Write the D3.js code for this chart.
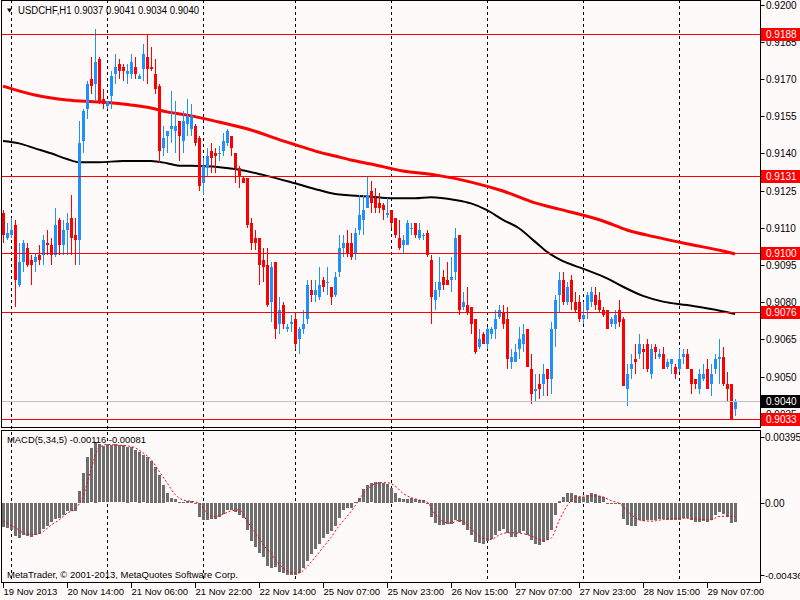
<!DOCTYPE html>
<html>
<head>
<meta charset="utf-8">
<script src="https://cdn.jsdelivr.net/npm/d3@7"></script>
<style>
body { margin: 0; background: #fffafa; }
svg { display: block; font-family: "Liberation Sans", Arial, sans-serif; }
</style>
</head>
<body>
<div id="chart"></div>
<script>
// USDCHF H1 candles, 19 Nov 22:00 .. 29 Nov 14:00
var symbol = "USDCHF,H1";
var opens = [0.9116,0.9106,0.9107,0.9111,0.9087,0.9096,0.9102,0.9097,0.9096,0.9099,
  0.9099,0.9104,0.9103,0.9099,0.9113,0.9103,0.9109,0.9114,0.9107,0.9105,
  0.9145,0.9158,0.9170,0.9168,0.9178,0.9162,0.9159,0.9163,0.9172,0.9176,
  0.9175,0.9172,0.9172,0.9175,0.9170,0.9174,0.9179,0.9175,0.9172,0.9167,
  0.9142,0.9147,0.9150,0.9149,0.9153,0.9145,0.9152,0.9150,0.9151,0.9146,
  0.9128,0.9134,0.9141,0.9140,0.9140,0.9141,0.9144,0.9147,0.9140,0.9134,
  0.9130,0.9130,0.9112,0.9106,0.9106,0.9097,0.9095,0.9080,0.9096,0.9071,
  0.9079,0.9069,0.9071,0.9073,0.9065,0.9069,0.9073,0.9085,0.9083,0.9082,
  0.9089,0.9088,0.9086,0.9083,0.9092,0.9102,0.9104,0.9104,0.9100,0.9109,
  0.9113,0.9118,0.9125,0.9122,0.9120,0.9119,0.9115,0.9117,0.9114,0.9106,
  0.9103,0.9103,0.9110,0.9112,0.9106,0.9107,0.9108,0.9097,0.9081,0.9085,
  0.9090,0.9089,0.9089,0.9092,0.9107,0.9078,0.9079,0.9078,0.9073,0.9062,
  0.9067,0.9063,0.9067,0.9069,0.9074,0.9076,0.9073,0.9056,0.9056,0.9061,
  0.9063,0.9069,0.9053,0.9044,0.9047,0.9047,0.9053,0.9049,0.9069,0.9083,
  0.9089,0.9080,0.9089,0.9080,0.9080,0.9073,0.9077,0.9080,0.9083,0.9081,
  0.9077,0.9077,0.9071,0.9071,0.9077,0.9073,0.9045,0.9053,0.9057,0.9059,
  0.9061,0.9063,0.9051,0.9062,0.9058,0.9059,0.9054,0.9055,0.9054,0.9053,
  0.9058,0.9059,0.9053,0.9049,0.9045,0.9049,0.9053,0.9047,0.9053,0.9057,
  0.9058,0.9047,0.9047,0.9037];
var highs = [0.9117,0.9112,0.9114,0.9113,0.9104,0.9105,0.9104,0.9099,0.9100,0.9103,
  0.9107,0.9109,0.9106,0.9118,0.9114,0.9113,0.9116,0.9123,0.9114,0.9153,
  0.9158,0.9169,0.9179,0.9190,0.9179,0.9166,0.9161,0.9173,0.9180,0.9178,
  0.9176,0.9176,0.9180,0.9179,0.9172,0.9184,0.9188,0.9183,0.9178,0.9168,
  0.9151,0.9149,0.9165,0.9161,0.9153,0.9157,0.9162,0.9160,0.9152,0.9147,
  0.9138,0.9142,0.9144,0.9142,0.9143,0.9148,0.9150,0.9147,0.9140,0.9135,
  0.9131,0.9130,0.9114,0.9109,0.9106,0.9102,0.9102,0.9096,0.9096,0.9082,
  0.9080,0.9071,0.9075,0.9076,0.9070,0.9077,0.9089,0.9089,0.9089,0.9094,
  0.9090,0.9094,0.9086,0.9092,0.9107,0.9107,0.9109,0.9108,0.9110,0.9123,
  0.9123,0.9131,0.9129,0.9126,0.9124,0.9120,0.9122,0.9117,0.9114,0.9113,
  0.9107,0.9113,0.9112,0.9112,0.9112,0.9108,0.9109,0.9099,0.9088,0.9098,
  0.9093,0.9096,0.9098,0.9110,0.9107,0.9084,0.9086,0.9078,0.9073,0.9069,
  0.9068,0.9070,0.9070,0.9077,0.9079,0.9079,0.9078,0.9061,0.9063,0.9070,
  0.9071,0.9069,0.9059,0.9051,0.9051,0.9055,0.9053,0.9072,0.9083,0.9092,
  0.9092,0.9088,0.9091,0.9084,0.9083,0.9080,0.9084,0.9086,0.9086,0.9084,
  0.9078,0.9077,0.9074,0.9077,0.9081,0.9074,0.9055,0.9059,0.9063,0.9067,
  0.9063,0.9065,0.9063,0.9063,0.9061,0.9062,0.9057,0.9057,0.9055,0.9061,
  0.9061,0.9061,0.9053,0.9049,0.9053,0.9055,0.9057,0.9055,0.9059,0.9065,
  0.9062,0.9052,0.9047,0.9041];
var lows = [0.9104,0.9105,0.9106,0.9078,0.9086,0.9092,0.9094,0.9087,0.9092,0.9095,
  0.9095,0.9099,0.9095,0.9098,0.9099,0.9099,0.9099,0.9099,0.9095,0.9095,
  0.9140,0.9154,0.9164,0.9161,0.9160,0.9158,0.9158,0.9158,0.9168,0.9170,
  0.9169,0.9168,0.9170,0.9170,0.9170,0.9169,0.9168,0.9173,0.9164,0.9136,
  0.9139,0.9140,0.9144,0.9140,0.9137,0.9140,0.9147,0.9147,0.9143,0.9125,
  0.9123,0.9131,0.9132,0.9132,0.9137,0.9139,0.9143,0.9139,0.9128,0.9126,
  0.9128,0.9110,0.9101,0.9101,0.9087,0.9088,0.9078,0.9072,0.9065,0.9067,
  0.9069,0.9068,0.9068,0.9061,0.9059,0.9067,0.9071,0.9080,0.9080,0.9081,
  0.9084,0.9083,0.9079,0.9082,0.9090,0.9098,0.9098,0.9097,0.9097,0.9107,
  0.9107,0.9118,0.9116,0.9116,0.9116,0.9113,0.9114,0.9110,0.9106,0.9101,
  0.9100,0.9103,0.9107,0.9106,0.9105,0.9105,0.9098,0.9071,0.9077,0.9082,
  0.9085,0.9087,0.9084,0.9089,0.9075,0.9077,0.9075,0.9067,0.9059,0.9061,
  0.9063,0.9061,0.9065,0.9065,0.9073,0.9069,0.9053,0.9053,0.9056,0.9057,
  0.9060,0.9054,0.9039,0.9040,0.9041,0.9042,0.9042,0.9043,0.9062,0.9076,
  0.9079,0.9079,0.9077,0.9076,0.9072,0.9071,0.9073,0.9078,0.9077,0.9076,
  0.9074,0.9069,0.9070,0.9069,0.9070,0.9046,0.9038,0.9049,0.9051,0.9057,
  0.9053,0.9052,0.9049,0.9057,0.9057,0.9053,0.9053,0.9051,0.9049,0.9052,
  0.9055,0.9053,0.9043,0.9045,0.9043,0.9048,0.9045,0.9042,0.9051,0.9047,
  0.9046,0.9040,0.9033,0.9034];
var closes = [0.9107,0.9108,0.9109,0.9089,0.9096,0.9104,0.9095,0.9095,0.9098,0.9097,
  0.9105,0.9103,0.9099,0.9111,0.9103,0.9109,0.9112,0.9106,0.9105,0.9144,
  0.9157,0.9168,0.9167,0.9177,0.9161,0.9160,0.9161,0.9171,0.9175,0.9173,
  0.9173,0.9173,0.9177,0.9172,0.9171,0.9180,0.9174,0.9174,0.9166,0.9141,
  0.9146,0.9149,0.9151,0.9151,0.9147,0.9153,0.9155,0.9155,0.9144,0.9127,
  0.9135,0.9139,0.9138,0.9139,0.9140,0.9145,0.9149,0.9142,0.9134,0.9131,
  0.9128,0.9111,0.9104,0.9104,0.9095,0.9094,0.9079,0.9094,0.9069,0.9077,
  0.9071,0.9070,0.9072,0.9063,0.9069,0.9071,0.9087,0.9083,0.9085,0.9087,
  0.9086,0.9088,0.9082,0.9090,0.9102,0.9104,0.9100,0.9098,0.9108,0.9115,
  0.9117,0.9123,0.9120,0.9118,0.9118,0.9117,0.9116,0.9112,0.9107,0.9102,
  0.9105,0.9112,0.9110,0.9107,0.9109,0.9107,0.9099,0.9082,0.9085,0.9088,
  0.9087,0.9087,0.9090,0.9106,0.9077,0.9080,0.9076,0.9071,0.9060,0.9065,
  0.9063,0.9069,0.9069,0.9073,0.9077,0.9071,0.9057,0.9058,0.9060,0.9065,
  0.9067,0.9054,0.9043,0.9045,0.9045,0.9051,0.9049,0.9069,0.9081,0.9089,
  0.9080,0.9086,0.9080,0.9077,0.9073,0.9075,0.9083,0.9084,0.9079,0.9077,
  0.9075,0.9069,0.9073,0.9075,0.9072,0.9046,0.9051,0.9055,0.9056,0.9063,
  0.9060,0.9053,0.9061,0.9060,0.9059,0.9053,0.9056,0.9057,0.9051,0.9057,
  0.9059,0.9053,0.9047,0.9047,0.9051,0.9051,0.9045,0.9051,0.9057,0.9058,
  0.9047,0.9045,0.9033,0.9040];

// moving averages at these bars
var maRedBars = [0,8,16,24,32,37,41,46,54,62,70,75,79,83,87,92,100,108,117,125,133,139,150,156,163,171,180,183];
var maRed = [0.91671,0.91635,0.91615,0.91607,0.91595,0.91583,0.91567,0.91554,0.91526,0.91494,
  0.91450,0.91425,0.91405,0.91389,0.91373,0.91357,0.91329,0.91313,0.91284,0.91248,
  0.91200,0.91175,0.91127,0.91091,0.91063,0.91035,0.91006,0.90994];
var maBlackBars = [0,4,8,12,16,19,24,30,37,41,44,47,58,65,73,79,83,92,97,103,107,113,117,121,125,129,133,136,139,146,151,155,160,165,171,177,183];
var maBlack = [0.91450,0.91440,0.91420,0.91400,0.91377,0.91364,0.91364,0.91369,0.91369,0.91360,
  0.91350,0.91350,0.91337,0.91313,0.91279,0.91252,0.91236,0.91225,0.91219,0.91219,
  0.91223,0.91212,0.91198,0.91171,0.91132,0.91098,0.91044,0.91003,0.90973,0.90929,
  0.90896,0.90862,0.90825,0.90802,0.90788,0.90772,0.90752];

// MACD(5,34,5) histogram, one value per bar
var macd = [-0.00144,-0.00148,-0.00164,-0.00200,-0.00208,-0.00194,-0.00200,-0.00204,-0.00194,-0.00184,
  -0.00154,-0.00140,-0.00114,-0.00094,-0.00090,-0.00074,-0.00048,-0.00048,-0.00048,0.00072,
  0.00180,0.00276,0.00326,0.00366,0.00352,0.00340,0.00352,0.00346,0.00352,0.00346,
  0.00346,0.00336,0.00332,0.00316,0.00306,0.00286,0.00276,0.00252,0.00216,0.00166,
  0.00106,0.00056,0.00026,0.00020,0.00004,0.00006,0.00012,0.00012,-0.00004,-0.00084,
  -0.00104,-0.00104,-0.00094,-0.00094,-0.00084,-0.00064,-0.00040,-0.00044,-0.00054,-0.00074,
  -0.00088,-0.00164,-0.00228,-0.00264,-0.00300,-0.00324,-0.00380,-0.00394,-0.00388,-0.00414,
  -0.00424,-0.00434,-0.00434,-0.00434,-0.00424,-0.00390,-0.00350,-0.00310,-0.00274,-0.00244,
  -0.00208,-0.00184,-0.00168,-0.00140,-0.00088,-0.00044,-0.00028,-0.00028,0.00006,0.00026,
  0.00080,0.00106,0.00116,0.00126,0.00126,0.00120,0.00112,0.00090,0.00056,0.00026,
  0.00020,0.00024,0.00028,0.00020,0.00016,0.00016,-0.00002,-0.00084,-0.00120,-0.00134,
  -0.00134,-0.00128,-0.00128,-0.00104,-0.00114,-0.00134,-0.00160,-0.00194,-0.00234,-0.00240,
  -0.00244,-0.00228,-0.00214,-0.00194,-0.00168,-0.00154,-0.00180,-0.00204,-0.00204,-0.00180,
  -0.00170,-0.00194,-0.00224,-0.00244,-0.00250,-0.00234,-0.00224,-0.00160,-0.00074,0.00010,
  0.00032,0.00056,0.00056,0.00046,0.00036,0.00032,0.00046,0.00056,0.00052,0.00040,
  0.00032,-0.00004,-0.00008,-0.00008,-0.00008,-0.00094,-0.00134,-0.00140,-0.00140,-0.00104,
  -0.00108,-0.00104,-0.00100,-0.00100,-0.00094,-0.00094,-0.00100,-0.00100,-0.00104,-0.00100,
  -0.00088,-0.00088,-0.00100,-0.00114,-0.00114,-0.00108,-0.00114,-0.00104,-0.00074,-0.00054,
  -0.00068,-0.00084,-0.00120,-0.00116];
var signalBars = [0,3,6,8,10,12,14,16,18,20,22,24,26,29,32,35,37,39,41,43,45,47,49,51,53,55,57,59,61,63,
  65,67,70,72,74,76,78,80,82,84,86,88,90,92,94,96,98,100,102,104,106,108,110,112,114,116,118,120,122,124,
  126,129,132,135,137,139,141,143,146,149,152,154,157,159,162,166,170,174,177,179,183];
var signal = [-0.00110,-0.00150,-0.00190,-0.00192,-0.00175,-0.00136,-0.00105,-0.00064,-0.00038,0.00036,
  0.00200,0.00330,0.00350,0.00346,0.00338,0.00300,0.00260,0.00190,0.00120,0.00050,
  0.00016,0.00008,-0.00002,-0.00064,-0.00086,-0.00070,-0.00050,-0.00044,-0.00110,-0.00180,
  -0.00250,-0.00310,-0.00394,-0.00420,-0.00424,-0.00385,-0.00330,-0.00270,-0.00210,-0.00140,
  -0.00084,-0.00020,0.00050,0.00100,0.00118,0.00120,0.00100,0.00056,0.00030,0.00016,
  0.00004,-0.00070,-0.00114,-0.00124,-0.00106,-0.00130,-0.00180,-0.00214,-0.00222,-0.00196,
  -0.00182,-0.00184,-0.00200,-0.00228,-0.00215,-0.00110,-0.00020,0.00030,0.00040,0.00040,
  0.00012,-0.00004,-0.00070,-0.00104,-0.00112,-0.00098,-0.00094,-0.00100,-0.00104,-0.00084,
  -0.00081];

var timeLabels = ["19 Nov 2013","20 Nov 14:00","21 Nov 06:00","21 Nov 22:00","22 Nov 14:00","25 Nov 07:00",
  "25 Nov 23:00","26 Nov 15:00","27 Nov 07:00","27 Nov 23:00","28 Nov 15:00","29 Nov 07:00"];
var timeLabelBars = [0,16,32,48,64,80,96,112,128,144,160,176];
var dayStartBars = [2,26,50,73,97,121,145,169];
var priceTicks = [0.9200,0.9185,0.9170,0.9155,0.9140,0.9125,0.9110,0.9095,0.9080,0.9065,0.9050,0.9035];
var levels = [0.9188,0.9131,0.9100,0.9076,0.9033];
var bid = 0.9040;
var macdTicks = [0.00395,0.00,-0.00436];
var macdTickText = ["0.00395","0.00","-0.00436"];

var width = 800, height = 600;
var axisX = 760.5;

var svg = d3.select("#chart").append("svg")
  .attr("width", width)
  .attr("height", height);

svg.append("rect").attr("width", width).attr("height", height).attr("fill", "#fffafa");

var x = d3.scaleLinear().domain([0, opens.length - 1]).range([3, 735]);
var y = d3.scaleLinear().domain([0.9033, 0.9200]).range([418.7, 4.5]);
var ym = d3.scaleLinear().domain([-0.00436, 0.00395]).range([575, 437]);
var bx = function(i) { return Math.round(x(i)); };
var fmt4 = d3.format(".4f");
var fmt5 = function(v) { return d3.format(".5f")(v).replace("\u2212", "-"); };

// clip areas for the two panes
var defs = svg.append("defs");
defs.append("clipPath").attr("id", "mainClip").append("rect")
  .attr("x", 2).attr("y", 1).attr("width", axisX - 2).attr("height", 426);
defs.append("clipPath").attr("id", "subClip").append("rect")
  .attr("x", 2).attr("y", 431).attr("width", axisX - 2).attr("height", 151);

// day separators
svg.append("g").selectAll("line").data(dayStartBars).enter().append("line")
  .attr("x1", function(d) { return bx(d) + 0.5; })
  .attr("x2", function(d) { return bx(d) + 0.5; })
  .attr("y1", 0).attr("y2", 583)
  .attr("stroke", "#000").attr("stroke-dasharray", "3,3");

var main = svg.append("g").attr("clip-path", "url(#mainClip)");

// moving averages
var maLine = d3.line()
  .x(function(d) { return x(d[0]); })
  .y(function(d) { return y(d[1]); })
  .curve(d3.curveMonotoneX);
main.append("path")
  .datum(d3.zip(maRedBars, maRed))
  .attr("d", maLine).attr("fill", "none").attr("stroke", "#ff0000").attr("stroke-width", 3);
main.append("path")
  .datum(d3.zip(maBlackBars, maBlack))
  .attr("d", maLine).attr("fill", "none").attr("stroke", "#000").attr("stroke-width", 2);

// candles
var bars = d3.range(opens.length).map(function(i) {
  return { i: i, o: opens[i], h: highs[i], l: lows[i], c: closes[i] };
});
var candle = main.append("g").attr("shape-rendering", "crispEdges")
  .selectAll("g").data(bars).enter().append("g");
candle.append("line")
  .attr("x1", function(d) { return bx(d.i) + 0.5; })
  .attr("x2", function(d) { return bx(d.i) + 0.5; })
  .attr("y1", function(d) { return y(d.h); })
  .attr("y2", function(d) { return y(d.l); })
  .attr("stroke", function(d) { return d.c >= d.o ? "#1e90ff" : "#ff0000"; });
candle.append("rect")
  .attr("x", function(d) { return bx(d.i) - 1; })
  .attr("width", 3)
  .attr("y", function(d) { return y(Math.max(d.o, d.c)); })
  .attr("height", function(d) { return Math.max(1, Math.abs(y(d.o) - y(d.c))); })
  .attr("fill", function(d) { return d.c >= d.o ? "#1e90ff" : "#ff0000"; });

// price levels and bid line
main.append("line")
  .attr("x1", 2).attr("x2", axisX).attr("y1", Math.round(y(bid)) + 0.5).attr("y2", Math.round(y(bid)) + 0.5)
  .attr("stroke", "#c0c0c0");
main.selectAll(".level").data(levels).enter().append("line")
  .attr("class", "level")
  .attr("x1", 2).attr("x2", axisX)
  .attr("y1", function(d) { return Math.round(y(d)) + 0.5; })
  .attr("y2", function(d) { return Math.round(y(d)) + 0.5; })
  .attr("stroke", "#ff0000");

// MACD pane
var sub = svg.append("g").attr("clip-path", "url(#subClip)");
sub.append("g").attr("shape-rendering", "crispEdges")
  .selectAll("rect").data(macd).enter().append("rect")
  .attr("x", function(d, i) { return bx(i) - 1; })
  .attr("width", 3)
  .attr("y", function(d) { return Math.round(ym(Math.max(0, d))); })
  .attr("height", function(d) { return Math.max(1, Math.round(Math.abs(ym(d) - ym(0)))); })
  .attr("fill", "#6e6e6e");
sub.append("path")
  .datum(d3.zip(signalBars, signal))
  .attr("d", d3.line()
    .x(function(d) { return x(d[0]); })
    .y(function(d) { return ym(d[1]); })
    .curve(d3.curveMonotoneX))
  .attr("fill", "none").attr("stroke", "#ff0000").attr("stroke-width", 1)
  .attr("stroke-dasharray", "2,2");

// pane frames
svg.append("rect").attr("x", 1.5).attr("y", 0.5).attr("width", axisX - 1.5).attr("height", 427)
  .attr("fill", "none").attr("stroke", "#000");
svg.append("rect").attr("x", 1.5).attr("y", 430.5).attr("width", axisX - 1.5).attr("height", 152)
  .attr("fill", "none").attr("stroke", "#000");

// right price scale
var pAxis = svg.append("g").attr("font-size", "10px").attr("fill", "#000");
priceTicks.forEach(function(p) {
  var py = Math.round(y(p)) + 0.5;
  pAxis.append("line").attr("x1", axisX).attr("x2", axisX + 4).attr("y1", py).attr("y2", py).attr("stroke", "#000");
  pAxis.append("text").attr("x", 766).attr("y", py).attr("dy", "0.35em").text(fmt4(p));
});
macdTicks.forEach(function(v, k) {
  var py = Math.round(ym(v)) + 0.5;
  pAxis.append("line").attr("x1", axisX).attr("x2", axisX + 4).attr("y1", py).attr("y2", py).attr("stroke", "#000");
  pAxis.append("text").attr("x", 765).attr("y", py).attr("dy", "0.35em")
    .attr("font-size", k === 2 ? "9.5px" : null).text(macdTickText[k]);
});

// level tags
levels.forEach(function(p) {
  var py = Math.round(y(p));
  svg.append("rect").attr("x", 761).attr("y", py - 6).attr("width", 39).attr("height", 13).attr("fill", "#ff0000");
  svg.append("text").attr("x", 766).attr("y", py + 0.5).attr("dy", "0.35em")
    .attr("font-size", "10px").attr("fill", "#fff").text(fmt4(p));
});
var by = Math.round(y(bid));
svg.append("rect").attr("x", 761).attr("y", by - 6).attr("width", 39).attr("height", 13).attr("fill", "#000");
svg.append("text").attr("x", 766).attr("y", by + 0.5).attr("dy", "0.35em")
  .attr("font-size", "10px").attr("fill", "#fff").text(fmt4(bid));

// time axis
var tAxis = svg.append("g").attr("font-size", "9.5px").attr("fill", "#000");
timeLabelBars.forEach(function(b, k) {
  var tx = bx(b) + 0.5;
  tAxis.append("line").attr("x1", tx).attr("x2", tx).attr("y1", 583).attr("y2", 588).attr("stroke", "#000");
  tAxis.append("text").attr("x", tx).attr("y", 595).text(timeLabels[k]);
});

// titles
svg.append("path").attr("d", "M7,8.5 L12,8.5 L9.5,12.5 Z").attr("fill", "#000");
svg.append("text").attr("x", 18).attr("y", 14).attr("font-size", "10px")
  .attr("textLength", 181).attr("lengthAdjust", "spacingAndGlyphs")
  .text(symbol + "  " + [opens[opens.length - 1], highs[highs.length - 1], lows[lows.length - 1], closes[closes.length - 1]]
    .map(fmt4).join(" "));
svg.append("text").attr("x", 7).attr("y", 443).attr("font-size", "9.5px")
  .attr("textLength", 139).attr("lengthAdjust", "spacingAndGlyphs")
  .text("MACD(5,34,5) " + fmt5(macd[macd.length - 1]) + " " + fmt5(signal[signal.length - 1]));
svg.append("text").attr("x", 7).attr("y", 578).attr("font-size", "9.5px")
  .attr("textLength", 231).attr("lengthAdjust", "spacingAndGlyphs")
  .text("MetaTrader, \u00a9 2001-2013, MetaQuotes Software Corp.");
</script>
</body>
</html>
